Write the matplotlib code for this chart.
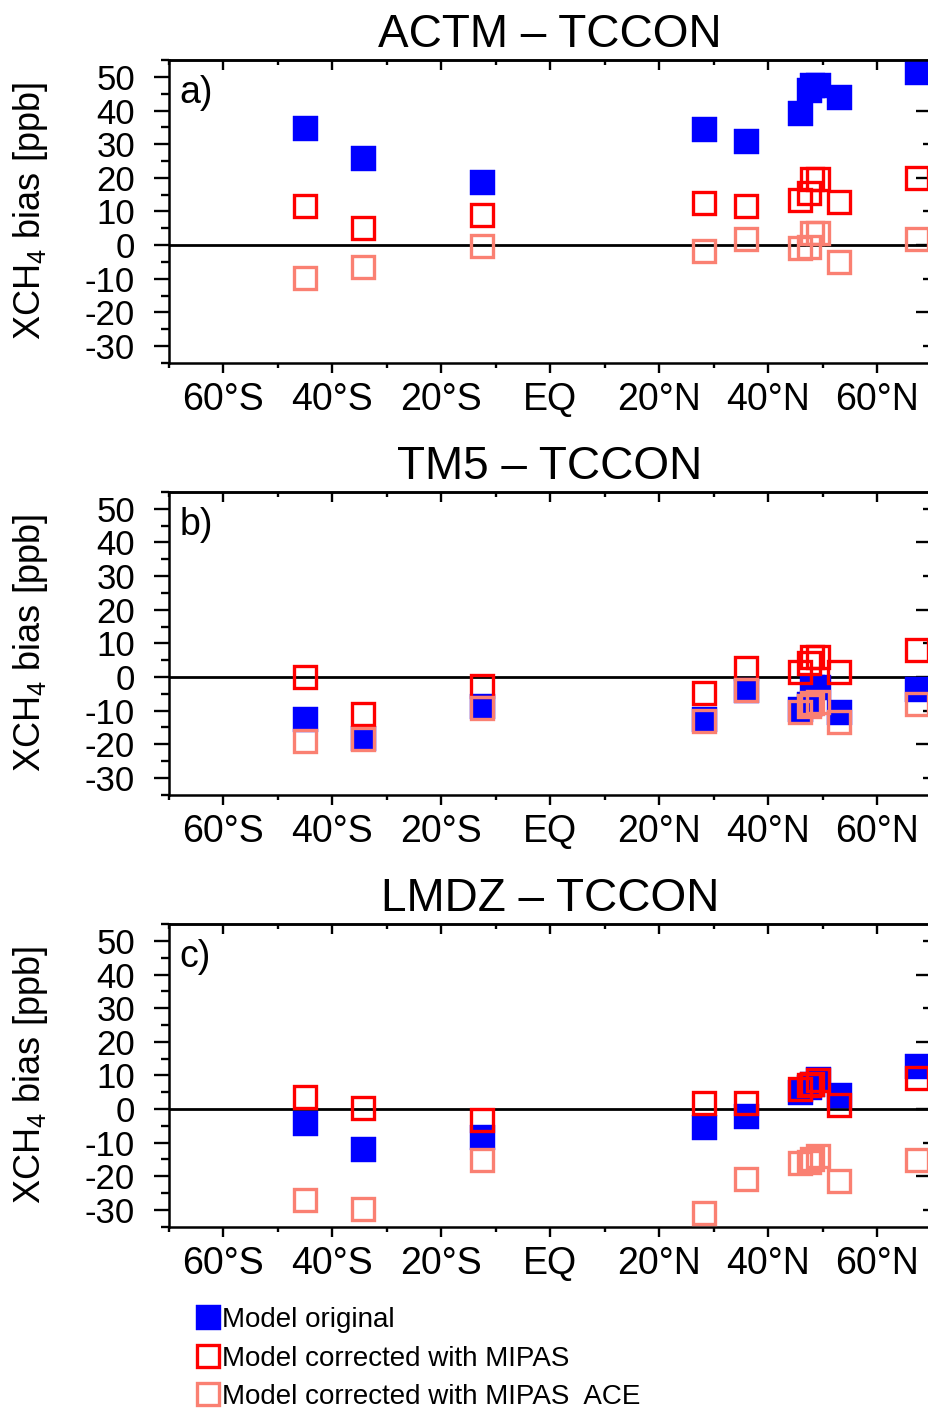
import matplotlib
matplotlib.use("Agg")
import matplotlib.pyplot as plt
from matplotlib.lines import Line2D

plt.rcParams['font.family'] = ['Liberation Sans', 'DejaVu Sans']
plt.rcParams['mathtext.fontset'] = 'custom'
plt.rcParams['mathtext.rm'] = 'Liberation Sans'
plt.rcParams['mathtext.default'] = 'regular'
plt.rcParams['axes.unicode_minus'] = False

# TCCON site latitudes (Lauder, Wollongong, Darwin, Izana, Tsukuba,
# Park Falls, Garmisch, Orleans, Karlsruhe, Bialystok, Sodankyla)
site_lat = [-45.0, -34.4, -12.4, 28.3, 36.0, 45.9, 47.5, 48.0, 49.1, 53.1, 67.4]

titles = ["ACTM – TCCON", "TM5 – TCCON", "LMDZ – TCCON"]
panel_tags = ["a)", "b)", "c)"]

# bias values [ppb] per panel
orig = [
    [34.8, 25.9, 18.7, 34.5, 31.0, 39.3, 46.0, 47.5, 47.5, 43.9, 51.4],
    [-12.6, -18.0, -8.7, -12.6, -4.0, -9.5, -8.0, -3.0, -3.0, -10.3, -3.6],
    [-4.2, -12.0, -8.4, -5.4, -2.1, 5.1, 6.5, 7.5, 9.0, 4.2, 12.8],
]
mipas = [
    [11.6, 5.0, 8.9, 12.5, 11.6, 13.4, 15.5, 19.6, 19.6, 12.8, 19.9],
    [0.0, -11.0, -2.7, -4.8, 2.7, 1.5, 4.2, 5.9, 6.0, 1.4, 8.0],
    [3.6, 0.3, -3.3, 1.8, 1.8, 6.0, 7.0, 7.5, 8.6, 1.2, 9.2],
]
mipas_ace = [
    [-9.8, -6.5, -0.3, -1.8, 1.8, -1.0, -0.5, 3.6, 3.6, -5.0, 1.8],
    [-19.0, -18.3, -9.3, -13.0, -4.0, -10.5, -8.6, -7.8, -7.5, -13.3, -8.0],
    [-27.0, -29.6, -15.3, -31.0, -20.7, -16.0, -15.7, -15.0, -13.9, -21.5, -15.3],
]

lat_ticks = [-60, -40, -20, 0, 20, 40, 60]
lat_labels = ["60°S", "40°S", "20°S", "EQ", "20°N", "40°N", "60°N"]
lat_minor = [-70, -50, -30, -10, 10, 30, 50, 70]
bias_ticks = [-30, -20, -10, 0, 10, 20, 30, 40, 50]
bias_minor = [-35, -25, -15, -5, 5, 15, 25, 35, 45, 55]

series_labels = ["Model original", "Model corrected with MIPAS",
                 "Model corrected with MIPAS  ACE"]
blue, red, salmon = "#0000ff", "#ff0000", "#fa8072"

fig = plt.figure(figsize=(9.29, 14.11), dpi=100)

left, width, height = 0.1814, 0.8213, 0.2145
bottoms = [0.7429, 0.4368, 0.1306]

filled = dict(ls="none", marker="s", ms=18, mfc=blue, mec=blue, mew=0.3)
hollow = dict(ls="none", marker="s", ms=15.6, mfc="none", mew=2.4)

for i in range(3):
    ax = fig.add_axes([left, bottoms[i], width, height])
    ax.axhline(0, color="k", lw=2, zorder=1)
    ax.plot(site_lat, orig[i], zorder=2, **filled)
    ax.plot(site_lat, mipas[i], mec=red, zorder=3, **hollow)
    ax.plot(site_lat, mipas_ace[i], mec=salmon, zorder=4, **hollow)

    ax.set_xlim(-70, 70)
    ax.set_ylim(-35, 55)
    for sp in ax.spines.values():
        sp.set_linewidth(1.8)

    ax.set_xticks(lat_ticks, lat_labels)
    ax.set_xticks(lat_minor, minor=True)
    ax.set_yticks(bias_ticks, [str(v) for v in bias_ticks])
    ax.set_yticks(bias_minor, minor=True)
    ax.tick_params(axis="x", which="major", direction="out", length=7.2,
                   width=1.7, labelsize=27, pad=6.5)
    ax.tick_params(axis="x", which="minor", direction="out", length=3.6, width=1.7)
    ax.tick_params(axis="y", which="major", direction="out", length=11,
                   width=1.7, labelsize=25, pad=13)
    ax.tick_params(axis="y", which="minor", direction="out", length=6, width=1.7)

    # mirrored ticks pointing inward on top and right
    top = ax.secondary_xaxis("top")
    top.set_xticks(lat_ticks)
    top.set_xticks(lat_minor, minor=True)
    top.tick_params(which="major", direction="in", length=7.2, width=1.7, labeltop=False)
    top.tick_params(which="minor", direction="in", length=3.6, width=1.7)
    top.spines["top"].set_linewidth(1.8)

    right = ax.secondary_yaxis("right")
    right.set_yticks([-20, 0, 20, 40])
    right.set_yticks([-30, -10, 10, 30, 50], minor=True)
    right.tick_params(which="major", direction="in", length=11.5, width=1.7, labelright=False)
    right.tick_params(which="minor", direction="in", length=6.5, width=1.7)

    ax.set_title(titles[i], fontsize=33, pad=9.5)
    ax.text(0.0142, 0.857, panel_tags[i], transform=ax.transAxes,
            fontsize=27, va="baseline", ha="left")
    ax.set_ylabel("XCH$_4$ bias [ppb]", fontsize=26)
    ax.yaxis.set_label_coords(-0.155, 0.5)

handles = [
    Line2D([], [], **filled),
    Line2D([], [], mec=red, **hollow),
    Line2D([], [], mec=salmon, **hollow),
]
fig.legend(handles, series_labels, loc="upper left",
           bbox_to_anchor=(196 / 929, 1 - 1307 / 1411), frameon=False,
           fontsize=20, handlelength=0.9, handletextpad=0.05,
           labelspacing=0.45, borderpad=0, borderaxespad=0)

fig.savefig("out.png", dpi=100)
